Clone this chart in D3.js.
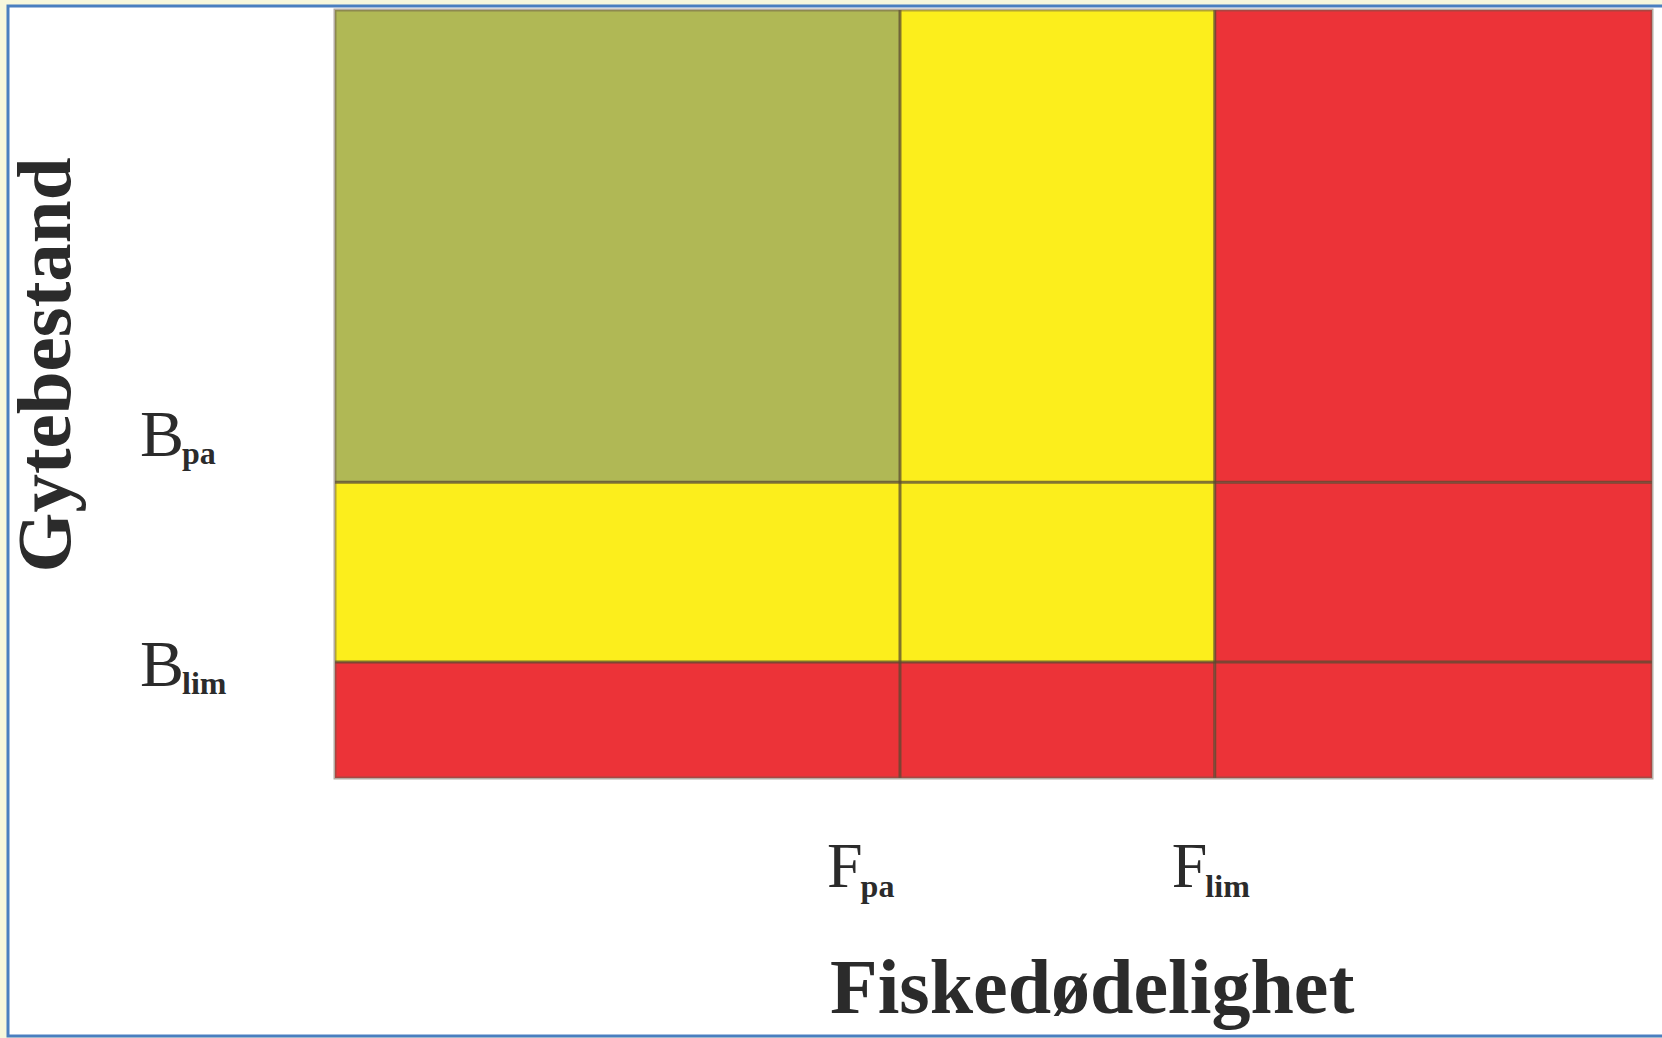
<!DOCTYPE html>
<html>
<head>
<meta charset="utf-8">
<script src="https://d3js.org/d3.v7.min.js"></script>
<style>
  body { margin: 0; background: #f7f7dc; }
  svg { display: block; }
</style>
</head>
<body>
<div id="canvas"></div>
<script>
// reference points on each axis (fraction of axis length)
const fPoints = [0, 0.429, 0.668, 1];      // 0, Fpa, Flim, max
const bPoints = [0, 0.151, 0.385, 1];      // 0, Blim, Bpa, max
const fLabels = [{main: "F", sub: "pa", value: 0.429}, {main: "F", sub: "lim", value: 0.668}];
const bLabels = [{main: "B", sub: "pa", value: 0.385}, {main: "B", sub: "lim", value: 0.151}];
// zone per cell, rows from bottom to top, columns from left to right
const zones = [
    ["red", "red", "red"],
    ["yellow", "yellow", "red"],
    ["green", "yellow", "red"]
];
const zoneColors = {green: "#b0b855", yellow: "#fcee1c", red: "#ec3338"};

const width = 1662, height = 1038;
const plot = {left: 335, right: 1652, top: 10, bottom: 778};

let svg = d3.select("#canvas").append("svg").attr("width", width).attr("height", height);
svg.append("rect").attr("x", 8).attr("y", 6).attr("width", width).attr("height", 1030)
    .attr("fill", "#ffffff").attr("stroke", "#4a7fc0").attr("stroke-width", 3);

var x = d3.scaleLinear().domain([0, 1]).range([plot.left, plot.right]);
var y = d3.scaleLinear().domain([0, 1]).range([plot.bottom, plot.top]);

let cells = [];
zones.forEach((row, r) => {
    row.forEach((z, c) => {
        cells.push({x0: fPoints[c], x1: fPoints[c + 1], y0: bPoints[r], y1: bPoints[r + 1], zone: z});
    })
})

let g = svg.append("g");
g.selectAll("rect.cell")
    .data(cells)
    .enter().append("rect")
    .attr("class", "cell")
    .attr("x", d => x(d.x0))
    .attr("y", d => y(d.y1))
    .attr("width", d => x(d.x1) - x(d.x0))
    .attr("height", d => y(d.y0) - y(d.y1))
    .style("fill", d => zoneColors[d.zone]);

// dividing lines
g.selectAll("line.v")
    .data(fPoints.slice(1, 3))
    .enter().append("line")
    .attr("x1", d => x(d)).attr("x2", d => x(d))
    .attr("y1", y(0)).attr("y2", y(1))
    .attr("stroke", "#5a4a30").attr("stroke-opacity", 0.75).attr("stroke-width", 3);
g.selectAll("line.h")
    .data(bPoints.slice(1, 3))
    .enter().append("line")
    .attr("x1", x(0)).attr("x2", x(1))
    .attr("y1", d => y(d)).attr("y2", d => y(d))
    .attr("stroke", "#5a4a30").attr("stroke-opacity", 0.75).attr("stroke-width", 3);
g.append("rect")
    .attr("x", x(0)).attr("y", y(1))
    .attr("width", x(1) - x(0)).attr("height", y(0) - y(1))
    .attr("fill", "none").attr("stroke", "#6a5a4a").attr("stroke-opacity", 0.5).attr("stroke-width", 3);

const serif = "'Liberation Serif', 'DejaVu Serif', serif";
const ink = "#2b2b2b";

// F labels under the plot
let fl = svg.append("g").selectAll("text")
    .data(fLabels)
    .enter().append("text")
    .attr("x", d => x(d.value) + (d.sub == "pa" ? -73 : -43))
    .attr("y", 887)
    .style("font-family", serif).style("fill", ink);
fl.append("tspan").style("font-size", "64px").text(d => d.main);
fl.append("tspan").attr("dy", 10).attr("dx", -2).style("font-size", "32px").style("font-weight", "bold").text(d => d.sub);

// B labels left of the plot
let bl = svg.append("g").selectAll("text")
    .data(bLabels)
    .enter().append("text")
    .attr("x", 140)
    .attr("y", d => d.sub == "pa" ? y(d.value) - 26 : y(d.value) + 24)
    .style("font-family", serif).style("fill", ink);
bl.append("tspan").style("font-size", "66px").text(d => d.main);
bl.append("tspan").attr("dy", 8).attr("dx", -2).style("font-size", "32px").style("font-weight", "bold").text(d => d.sub);

// axis titles
svg.append("text")
    .attr("x", 830).attr("y", 1013)
    .style("font-family", serif).style("font-weight", "bold").style("font-size", "78px").style("fill", ink)
    .text("Fiskedødelighet");
svg.append("text")
    .attr("transform", "translate(70,365) rotate(-90)")
    .attr("text-anchor", "middle")
    .style("font-family", serif).style("font-weight", "bold").style("font-size", "77px").style("fill", ink)
    .text("Gytebestand");
</script>
</body>
</html>
